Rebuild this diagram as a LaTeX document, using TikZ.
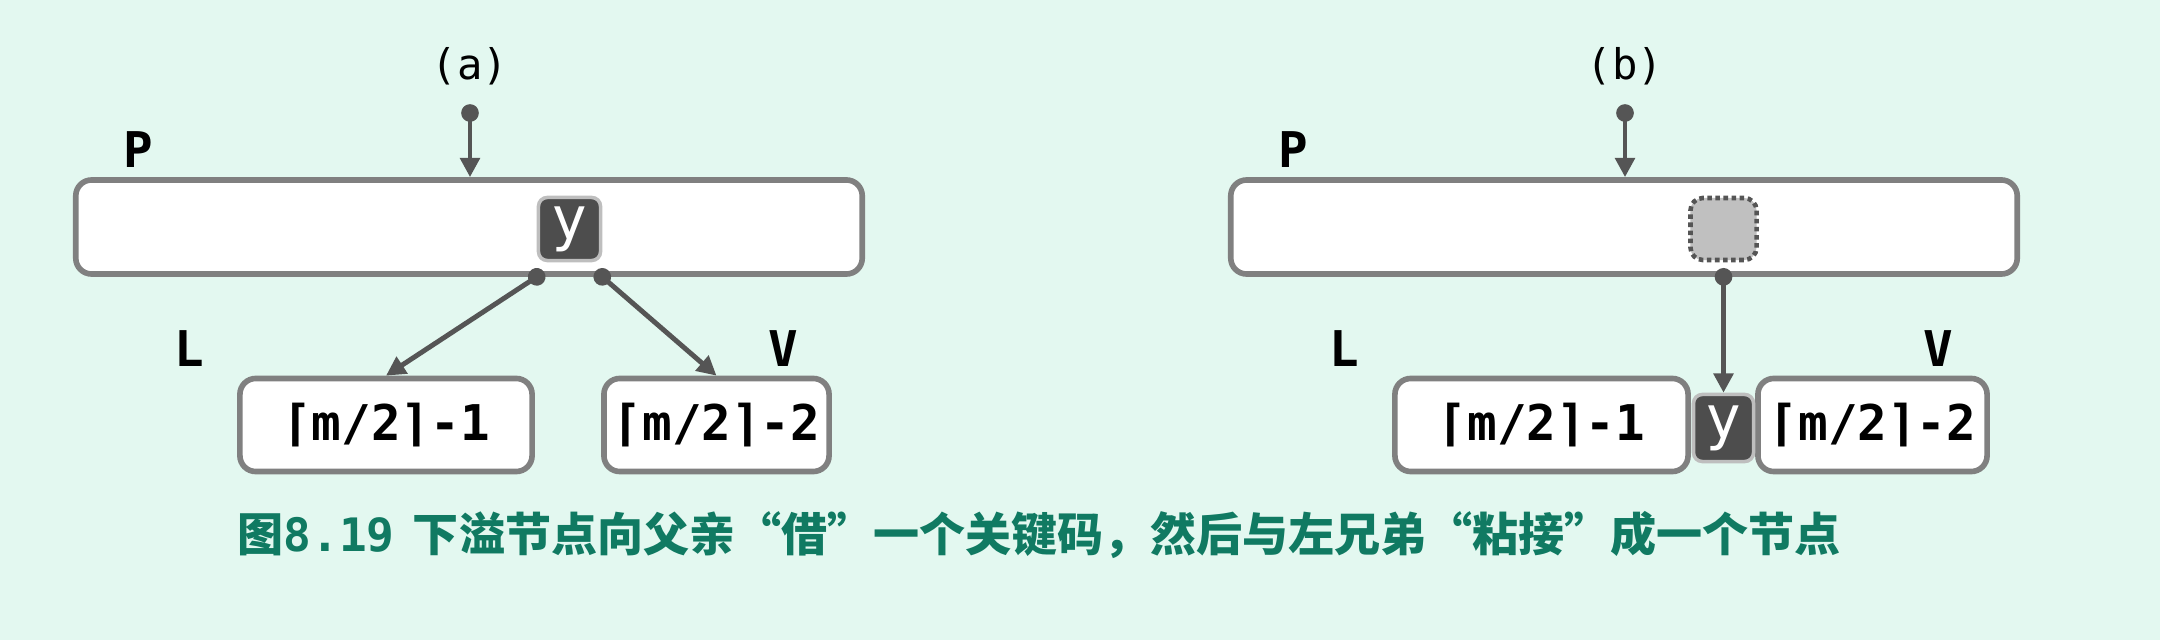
\documentclass[tikz,border=0pt]{standalone}
\usepackage{fontspec}
\setmonofont{DejaVu Sans Mono}
\newfontfamily\cjk{Noto Sans CJK SC}
\usetikzlibrary{positioning, calc, arrows.meta}

\begin{document}
\begin{tikzpicture}[x=0.01cm, y=-0.01cm]
\definecolor{mint}{RGB}{227,248,240};
\definecolor{framegray}{RGB}{128,128,128};
\definecolor{linkgray}{RGB}{85,85,85};
\definecolor{keydark}{RGB}{77,77,77};
\definecolor{keyedge}{RGB}{190,190,190};
\definecolor{holegray}{RGB}{192,192,192};
\definecolor{teal2}{RGB}{16,122,98};
\tikzstyle{bnode}=[draw=framegray, line width=1.6pt, fill=white, rounded corners=4.5pt, inner sep=0pt, font=\fontsize{14pt}{16pt}\selectfont\ttfamily\bfseries];
\tikzstyle{key}=[draw=keyedge, line width=1pt, fill=keydark, rounded corners=2.5pt, inner sep=0pt, text=white, font=\fontsize{17pt}{19pt}\selectfont\ttfamily];
\tikzstyle{hole}=[draw=linkgray, densely dotted, line width=1.3pt, fill=holegray, rounded corners=3.5pt, inner sep=0pt];
\tikzstyle{lbl}=[font=\fontsize{14pt}{16pt}\selectfont\ttfamily\bfseries, inner sep=0pt];
\tikzstyle{tag}=[font=\fontsize{12pt}{14pt}\selectfont\ttfamily, inner sep=0pt];
\tikzstyle{link}=[draw=linkgray, line width=1.4pt, shorten <=-2.5pt, {Circle[length=5pt]}-{Triangle[length=5.5pt,width=5.5pt]}];
\tikzstyle{figcap}=[font=\fontsize{13.1pt}{15pt}\selectfont\cjk\bfseries, text=teal2, inner sep=0pt];
\fill[mint] (0,0) rectangle (2160,640);
\foreach \s/\dx in {a/0,b/1155} {
\node[bnode, minimum width=7.86cm, minimum height=0.94cm] (P\s) at (469+\dx,227) {};
\node[lbl] (Plab\s) at (138+\dx,150) {P};
\node[lbl] (Llab\s) at (189+\dx,349) {L};
\node[lbl] (Vlab\s) at (783+\dx,349) {V};
\node[tag] (tag\s) at (470+\dx,66) {(\s)};
\coordinate (d\s) at (470+\dx,113);
\draw[link] (d\s) -- (d\s |- P\s.north);
}
\node[key, minimum width=6.2mm, minimum height=6.3mm] (ya) at (569.5,229) {y};
\node[bnode, minimum width=2.92cm, minimum height=0.93cm] (La) at (386,425) {⌈m/2⌉-1};
\node[bnode, minimum width=2.25cm, minimum height=0.93cm] (Ra) at (716.5,425) {⌈m/2⌉-2};
\draw[link] (ya.south west |- Pa.south) -- (La.north);
\draw[link] (ya.south east |- Pa.south) -- (Ra.north);
\node[hole, minimum width=6.6mm, minimum height=6.2mm] (hb) at (1723.5,229) {};
\node[bnode, minimum width=2.93cm, minimum height=0.93cm] (Lb) at (1541.5,425) {⌈m/2⌉-1};
\node[bnode, minimum width=2.29cm, minimum height=0.93cm] (Rb) at (1872.5,425) {⌈m/2⌉-2};
\node[key, minimum width=6.0mm, minimum height=6.7mm] (yb) at (1723.5,428) {y};
\draw[link] (hb |- Pb.south) -- (yb.north);
\node[figcap, anchor=west] (figcap) at (237,535) {图{\ttfamily 8.19}\, 下溢节点向父亲“借”一个关键码，然后与左兄弟“粘接”成一个节点};
\end{tikzpicture}
\end{document}
